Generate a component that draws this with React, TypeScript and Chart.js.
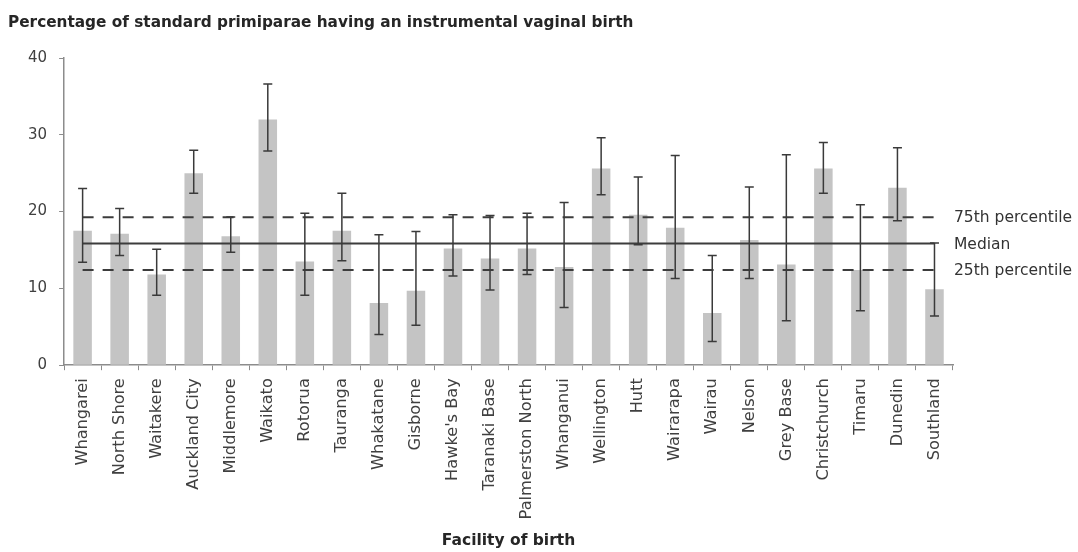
import React, { useEffect, useRef } from "react";
import { Chart, registerables } from "chart.js";

Chart.register(...registerables);

const TITLE = "Percentage of standard primiparae having an instrumental vaginal birth";
const X_TITLE = "Facility of birth";

const FACILITIES = [
  "Whangarei", "North Shore", "Waitakere", "Auckland City", "Middlemore", "Waikato",
  "Rotorua", "Tauranga", "Whakatane", "Gisborne", "Hawke's Bay", "Taranaki Base",
  "Palmerston North", "Whanganui", "Wellington", "Hutt", "Wairarapa", "Wairau",
  "Nelson", "Grey Base", "Christchurch", "Timaru", "Dunedin", "Southland",
];

const PERCENT = [
  17.5, 17.1, 11.8, 25.0, 16.8, 32.0, 13.5, 17.5, 8.1, 9.7, 15.2, 13.9,
  15.2, 12.8, 25.6, 19.6, 17.9, 6.8, 16.3, 13.1, 25.6, 12.4, 23.1, 9.9,
];

const CI_LOWER = [
  13.4, 14.3, 9.1, 22.4, 14.7, 27.9, 9.1, 13.6, 4.0, 5.2, 11.6, 9.8,
  11.8, 7.5, 22.2, 15.7, 11.3, 3.1, 11.3, 5.8, 22.4, 7.1, 18.8, 6.4,
];

const CI_UPPER = [
  23.0, 20.4, 15.1, 28.0, 19.3, 36.6, 19.8, 22.4, 17.0, 17.4, 19.6, 19.5,
  19.8, 21.2, 29.6, 24.5, 27.3, 14.3, 23.2, 27.4, 29.0, 20.9, 28.3, 15.9,
];

const REF_LABELS = ["75th percentile", "Median", "25th percentile"];
const REF_VALUES = [19.25, 15.85, 12.4];
const REF_DASHED = [true, false, true];

const Y_MIN = 0;
const Y_MAX = 40;
const Y_STEP = 10;

const FONT = "'DejaVu Sans', sans-serif";

const overlayPlugin = {
  id: "overlay",
  afterDatasetsDraw(chart: any) {
    const { ctx, chartArea, scales } = chart;
    const x = scales.x;
    const y = scales.y;
    const x0 = x.getPixelForValue(0);
    const x1 = x.getPixelForValue(FACILITIES.length - 1);

    // reference lines
    ctx.save();
    ctx.strokeStyle = "#3c3c3c";
    ctx.lineWidth = 2;
    REF_VALUES.forEach((v, i) => {
      const py = y.getPixelForValue(v);
      ctx.setLineDash(REF_DASHED[i] ? [11, 9] : []);
      ctx.beginPath();
      ctx.moveTo(x0, py);
      ctx.lineTo(x1, py);
      ctx.stroke();
    });
    ctx.restore();

    // error bars
    ctx.save();
    ctx.strokeStyle = "#3a3a3a";
    ctx.lineWidth = 1.5;
    const cap = 4.5;
    FACILITIES.forEach((_, i) => {
      const px = x.getPixelForValue(i);
      const pl = y.getPixelForValue(CI_LOWER[i]);
      const pu = y.getPixelForValue(CI_UPPER[i]);
      ctx.beginPath();
      ctx.moveTo(px, pl);
      ctx.lineTo(px, pu);
      ctx.moveTo(px - cap, pl);
      ctx.lineTo(px + cap, pl);
      ctx.moveTo(px - cap, pu);
      ctx.lineTo(px + cap, pu);
      ctx.stroke();
    });
    ctx.restore();

    // labels at right
    ctx.save();
    ctx.fillStyle = "#333333";
    ctx.font = `15.5px ${FONT}`;
    ctx.textAlign = "left";
    ctx.textBaseline = "middle";
    REF_VALUES.forEach((v, i) => {
      ctx.fillText(REF_LABELS[i], chartArea.right + 1, y.getPixelForValue(v) + 1);
    });
    ctx.restore();

    // title
    ctx.save();
    ctx.fillStyle = "#262626";
    ctx.font = `bold 15.3px ${FONT}`;
    ctx.textAlign = "left";
    ctx.textBaseline = "middle";
    ctx.fillText(TITLE, 8, 23);
    ctx.restore();
  },
};

export default function App() {
  const ref = useRef<HTMLCanvasElement | null>(null);

  useEffect(() => {
    if (!ref.current) return;
    const chart = new Chart(ref.current, {
      type: "bar",
      data: {
        labels: FACILITIES,
        datasets: [
          {
            label: "Percentage",
            data: PERCENT,
            backgroundColor: "#c4c4c4",
            borderWidth: 0,
            barPercentage: 0.5,
            categoryPercentage: 1,
          },
        ],
      },
      options: {
        animation: false,
        responsive: false,
        maintainAspectRatio: false,
        layout: { padding: { top: 58, right: 125, left: 16, bottom: 2 } },
        plugins: {
          legend: { display: false },
          title: { display: false },
          tooltip: { enabled: false },
        },
        scales: {
          x: {
            offset: true,
            grid: {
              offset: true,
              drawOnChartArea: false,
              drawTicks: true,
              tickLength: 5,
              color: "#8c8c8c",
            },
            border: { color: "#8c8c8c", width: 1.5 },
            ticks: {
              minRotation: 90,
              maxRotation: 90,
              autoSkip: false,
              padding: 8,
              color: "#404040",
              font: { family: FONT, size: 16.2 },
            },
            title: {
              display: true,
              text: X_TITLE,
              color: "#262626",
              font: { family: FONT, size: 15.5, weight: "bold" },
              padding: { top: 4, bottom: 0 },
            },
          },
          y: {
            min: Y_MIN,
            max: Y_MAX,
            grid: {
              drawOnChartArea: false,
              drawTicks: true,
              tickLength: 5,
              color: "#8c8c8c",
            },
            border: { color: "#8c8c8c", width: 1.5 },
            ticks: {
              stepSize: Y_STEP,
              padding: 12,
              color: "#404040",
              font: { family: FONT, size: 15 },
            },
          },
        },
      },
      plugins: [overlayPlugin],
    });
    return () => chart.destroy();
  }, []);

  return (
    <div style={{ position: "absolute", left: 0, top: 0, width: 1078, height: 552, background: "#fff" }}>
      <canvas ref={ref} width={1078} height={552} />
    </div>
  );
}
